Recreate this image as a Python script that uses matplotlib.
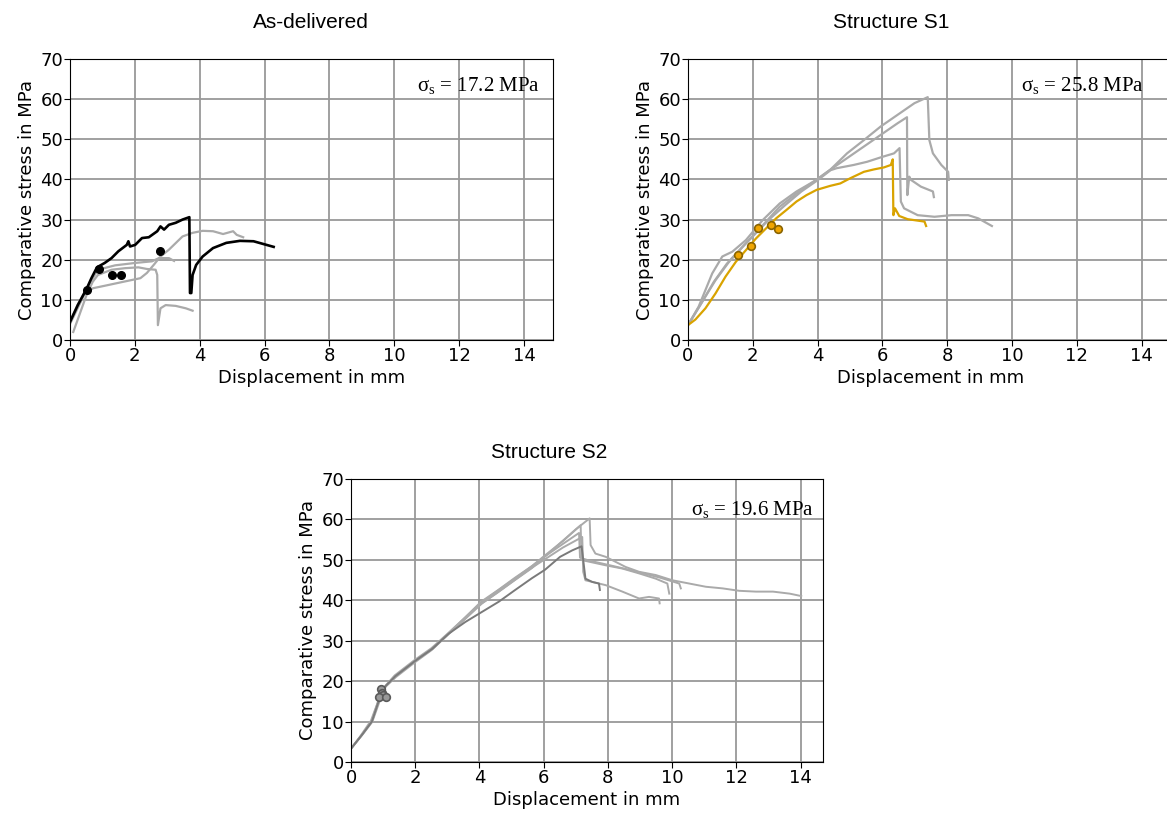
import matplotlib.pyplot as plt

plt.rcParams['mathtext.fontset'] = 'custom'
plt.rcParams['mathtext.rm'] = 'Liberation Serif'

# ---- As-delivered ----
ad_black_x = [0.0, 0.24, 0.52, 0.66, 0.83, 1.07, 1.28, 1.49, 1.75, 1.80, 1.85, 2.01, 2.22, 2.43,
              2.69, 2.79, 2.90, 3.05, 3.26, 3.47, 3.68, 3.70, 3.74, 3.78, 3.89, 4.09, 4.41, 4.82,
              5.24, 5.66, 5.97, 6.28]
ad_black_y = [4.5, 8.7, 12.9, 15.4, 18.1, 19.2, 20.4, 22.1, 23.7, 24.6, 23.3, 23.7, 25.4, 25.6,
              27.1, 28.3, 27.5, 28.7, 29.2, 30.0, 30.6, 11.7, 11.7, 16.2, 18.7, 20.8, 22.9, 24.2,
              24.7, 24.6, 23.9, 23.2]
ad_g1_x = [0.02, 0.25, 0.45, 0.71, 1.18, 1.70, 2.17, 2.37, 2.58, 2.79, 3.05, 3.47, 3.78, 4.09,
           4.41, 4.72, 5.03, 5.14, 5.34]
ad_g1_y = [5.0, 9.0, 11.7, 12.9, 13.7, 14.6, 15.4, 16.7, 18.7, 20.8, 22.5, 25.8, 26.7, 27.2,
           27.1, 26.4, 27.1, 26.2, 25.6]
ad_g2_x = [0.10, 0.30, 0.50, 0.70, 0.86, 1.28, 1.70, 2.11, 2.37, 2.64, 2.69, 2.71, 2.79, 2.95,
           3.26, 3.57, 3.78]
ad_g2_y = [2.0, 6.5, 11.0, 14.5, 16.2, 17.5, 17.9, 18.1, 17.7, 17.5, 16.2, 3.7, 7.9, 8.7,
           8.5, 7.9, 7.3]
ad_g3_x = [0.0, 0.30, 0.60, 0.86, 1.39, 2.01, 2.53, 2.74, 3.05, 3.21]
ad_g3_y = [4.0, 9.0, 14.0, 17.5, 18.6, 19.2, 19.6, 20.4, 20.4, 19.7]
ad_pts_x = [0.52, 0.88, 1.30, 1.58, 2.77]
ad_pts_y = [12.5, 17.8, 16.3, 16.3, 22.2]

# ---- Structure S1 ----
s1_yel_x = [0.0, 0.23, 0.54, 0.85, 1.16, 1.48, 1.79, 2.10, 2.41, 2.72, 3.04, 3.35, 3.66, 3.97,
            4.39, 4.70, 5.01, 5.43, 5.74, 6.05, 6.26, 6.32, 6.34, 6.39, 6.52, 6.78, 7.30, 7.35]
s1_yel_y = [3.7, 5.1, 7.9, 11.6, 15.8, 19.5, 22.4, 25.3, 27.8, 30.3, 32.4, 34.5, 36.1, 37.4,
            38.4, 39.0, 40.3, 41.9, 42.5, 43.0, 43.6, 45.0, 31.1, 32.8, 30.9, 30.1, 29.5, 28.4]
s1_ga_x = [0.0, 0.33, 0.75, 1.06, 1.37, 1.79, 2.31, 2.83, 3.35, 3.97, 4.39, 4.91, 5.43, 5.95,
           6.47, 6.99, 7.40, 7.45, 7.56, 7.82, 8.03, 8.05]
s1_ga_y = [3.7, 8.3, 16.6, 20.8, 22.0, 24.9, 29.9, 34.0, 37.0, 39.9, 42.4, 46.5, 49.8, 53.2,
           56.1, 59.0, 60.5, 49.8, 46.5, 43.6, 41.9, 39.9]
s1_gb_x = [0.0, 0.44, 0.85, 1.27, 1.79, 2.31, 2.83, 3.35, 3.87, 4.39, 4.91, 5.43, 5.95, 6.47,
           6.76, 6.77, 6.83, 6.88, 7.19, 7.56, 7.59]
s1_gb_y = [3.7, 9.5, 14.9, 19.5, 24.1, 28.6, 33.2, 36.5, 39.4, 42.4, 45.3, 48.2, 51.1, 54.0,
           55.5, 36.1, 40.7, 39.9, 38.2, 37.0, 35.6]
s1_gc_x = [0.0, 0.40, 0.80, 1.20, 1.60, 2.00, 2.50, 3.00, 3.50, 4.00, 4.40, 4.59, 5.11, 5.53,
           5.95, 6.36, 6.53, 6.57, 6.67, 7.09, 7.61, 8.13, 8.65, 8.96, 9.38]
s1_gc_y = [3.7, 9.0, 14.5, 19.0, 22.5, 25.8, 30.0, 33.6, 37.0, 39.8, 42.3, 42.8, 43.6, 44.4,
           45.5, 46.5, 47.8, 34.5, 32.8, 31.1, 30.7, 31.1, 31.1, 30.3, 28.4]
s1_pts_x = [1.56, 1.95, 2.16, 2.56, 2.79]
s1_pts_y = [21.2, 23.3, 27.8, 28.6, 27.7]

# ---- Structure S2 ----
s2_dark_x = [0.0, 0.34, 0.65, 0.86, 1.07, 1.38, 2.00, 2.52, 3.04, 3.56, 4.08, 4.60, 5.11, 5.63,
             6.04, 6.51, 6.89, 7.18, 7.30, 7.51, 7.72, 7.75]
s2_dark_y = [3.3, 6.7, 10.0, 15.0, 18.7, 21.2, 25.0, 27.9, 31.7, 34.6, 37.1, 39.6, 42.5, 45.4,
             47.5, 50.7, 52.3, 53.3, 45.3, 44.5, 44.1, 42.5]
s2_g1_x = [0.0, 0.34, 0.65, 0.86, 1.07, 1.38, 2.00, 2.52, 3.04, 3.56, 4.08, 4.60, 5.11, 5.63,
           6.00, 6.50, 7.00, 7.43, 7.46, 7.61, 7.93, 8.03, 8.55, 8.97, 9.49, 10.01, 10.53,
           11.05, 11.57, 12.09, 12.61, 13.14, 13.66, 14.02]
s2_g1_y = [3.3, 6.7, 10.0, 15.0, 18.7, 21.2, 25.0, 27.9, 31.7, 35.4, 39.2, 42.1, 45.0, 47.9,
           50.5, 54.0, 57.5, 60.2, 53.6, 51.5, 50.7, 50.3, 48.2, 47.0, 46.2, 44.9, 44.1,
           43.3, 42.9, 42.3, 42.1, 42.1, 41.6, 41.0]
s2_g2_x = [0.0, 0.30, 0.62, 0.86, 1.10, 1.45, 2.05, 2.55, 3.05, 3.55, 4.05, 4.60, 5.10, 5.65,
           6.00, 6.60, 7.15, 7.18, 7.41, 7.93, 8.45, 8.97, 9.49, 9.85, 9.91]
s2_g2_y = [3.3, 6.5, 10.2, 15.3, 19.0, 21.6, 25.3, 28.0, 31.9, 35.7, 39.6, 42.6, 45.5, 48.5,
           50.8, 54.6, 58.5, 49.9, 49.5, 48.6, 47.8, 46.6, 45.3, 44.1, 41.6]
s2_g3_x = [0.0, 0.36, 0.66, 0.88, 1.05, 1.40, 2.00, 2.50, 3.00, 3.50, 4.00, 4.55, 5.05, 5.55,
           6.00, 6.60, 7.20, 7.23, 7.30, 7.93, 8.45, 8.97, 9.28, 9.59, 9.61]
s2_g3_y = [3.3, 6.8, 9.9, 14.8, 18.4, 21.0, 24.7, 27.6, 31.3, 35.0, 38.8, 41.8, 44.7, 47.6,
           49.9, 53.0, 55.6, 47.0, 44.9, 43.7, 42.1, 40.4, 40.8, 40.4, 39.2]
s2_g4_x = [0.0, 0.33, 0.64, 0.85, 1.08, 1.36, 1.98, 2.50, 3.02, 3.54, 4.06, 4.58, 5.10, 5.60,
           6.00, 6.60, 7.10, 7.13, 7.40, 7.90, 8.50, 9.00, 9.60, 10.22, 10.27]
s2_g4_y = [3.3, 6.6, 10.1, 15.1, 18.9, 21.4, 25.2, 28.1, 31.8, 35.6, 39.4, 42.4, 45.3, 48.2,
           50.6, 53.9, 56.6, 50.5, 49.8, 48.9, 47.8, 46.8, 45.6, 44.1, 42.9]
s2_pts_x = [0.94, 0.96, 1.00, 0.86, 1.10]
s2_pts_y = [18.0, 17.0, 16.6, 16.0, 16.0]

ticks_x = [0, 2, 4, 6, 8, 10, 12, 14]
ticks_y = [0, 10, 20, 30, 40, 50, 60, 70]
sigma_texts = ['17.2', '25.8', '19.6']

gray = '#aaaaaa'
yellow = '#d9a300'

fig = plt.figure(figsize=(11.67, 8.14), dpi=100)
ax1 = fig.add_axes([0.0600, 0.5823, 0.4140, 0.3452])
ax2 = fig.add_axes([0.5895, 0.5823, 0.4165, 0.3452])
ax3 = fig.add_axes([0.3008, 0.0639, 0.4045, 0.3480])


def style(ax, sig, tx, ty, xmax=15):
    ax.set_xlim(0, xmax)
    ax.set_ylim(0, 70)
    ax.set_xticks(ticks_x)
    ax.set_yticks(ticks_y)
    ax.grid(True, color='#999999', lw=1.3)
    ax.set_axisbelow(True)
    ax.tick_params(labelsize=13, length=4, pad=1)
    ax.set_xlabel('Displacement in mm', fontsize=13, labelpad=3)
    ax.set_ylabel('Comparative stress in MPa', fontsize=13, labelpad=3)
    ax.text(tx, ty, 'σ$_\\mathrm{s}$ = ' + sig + ' MPa', transform=ax.transAxes,
            ha='right', va='center', fontfamily='Liberation Serif', fontsize=15)


# As-delivered
ax1.plot(ad_g1_x, ad_g1_y, color=gray, lw=1.6)
ax1.plot(ad_g2_x, ad_g2_y, color=gray, lw=1.6)
ax1.plot(ad_g3_x, ad_g3_y, color=gray, lw=1.6)
ax1.plot(ad_black_x, ad_black_y, color='black', lw=1.9)
ax1.plot(ad_pts_x, ad_pts_y, 'o', color='black', ms=5.5)
style(ax1, sigma_texts[0], 0.972, 0.905, xmax=14.9)

# Structure S1
for xs, ys in [(s1_ga_x, s1_ga_y), (s1_gb_x, s1_gb_y), (s1_gc_x, s1_gc_y)]:
    ax2.plot(xs, ys, color=gray, lw=1.6)
ax2.plot(s1_yel_x, s1_yel_y, color=yellow, lw=1.6)
ax2.plot(s1_pts_x, s1_pts_y, 'o', color='#f0a500', mec='#8a6400', mew=1.2, ms=5.5)
style(ax2, sigma_texts[1], 0.938, 0.905)

# Structure S2
for xs, ys in [(s2_g1_x, s2_g1_y), (s2_g2_x, s2_g2_y), (s2_g3_x, s2_g3_y), (s2_g4_x, s2_g4_y)]:
    ax3.plot(xs, ys, color=gray, lw=1.4)
ax3.plot(s2_dark_x, s2_dark_y, color='#7a7a7a', lw=1.4)
ax3.plot(s2_pts_x, s2_pts_y, 'o', color='#999999', mec='#5a5a5a', mew=1.2, ms=5.5)
style(ax3, sigma_texts[2], 0.98, 0.89, xmax=14.7)

fig.text(311 / 1167, 1 - 22 / 814, 'As-delivered', ha='center', va='center',
         fontfamily='Liberation Sans', fontsize=15)
fig.text(891 / 1167, 1 - 22 / 814, 'Structure S1', ha='center', va='center',
         fontfamily='Liberation Sans', fontsize=15)
fig.text(549 / 1167, 1 - 452 / 814, 'Structure S2', ha='center', va='center',
         fontfamily='Liberation Sans', fontsize=15)

fig.savefig('out.png', dpi=100)
